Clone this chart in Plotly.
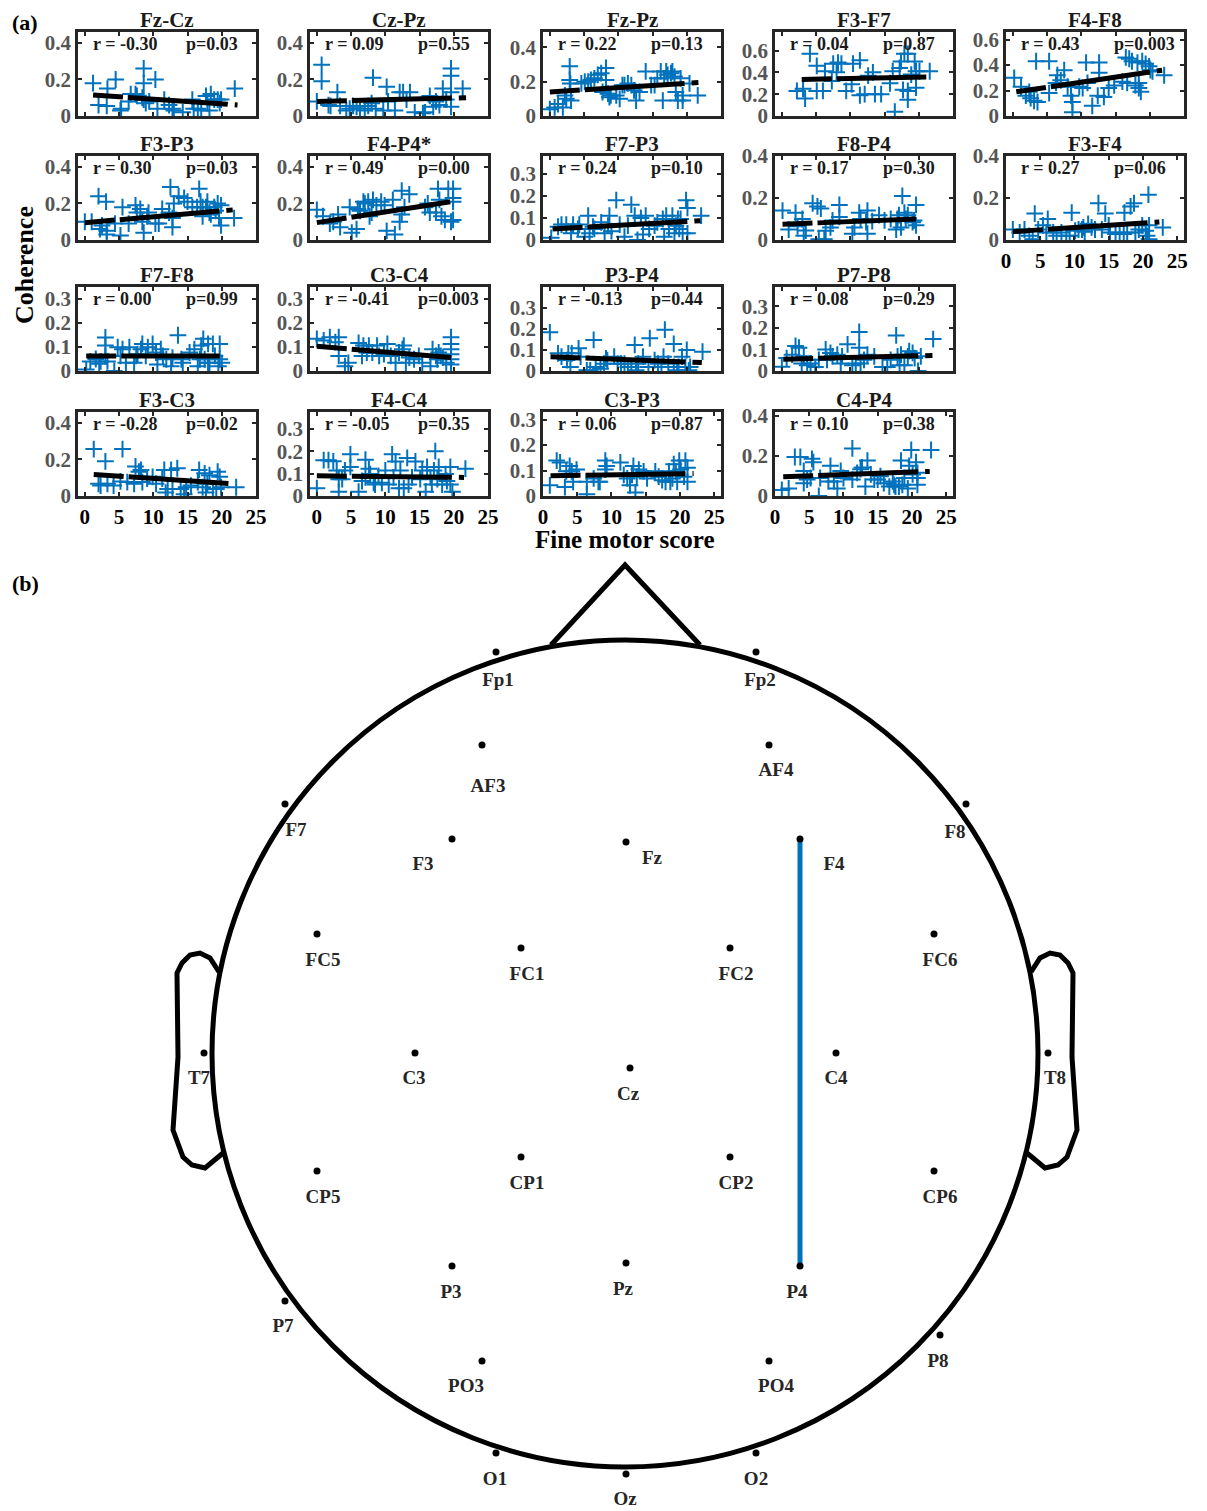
import plotly.graph_objects as go

W, H = 1207, 1511          # target picture size
OFF = 8                    # page body margin of the browser
FIG_W, FIG_H = W - OFF, H - OFF
FONT = "Liberation Serif"
BLUE = "#0072BD"

# ---------------- panel data (x = fine motor score, y = coherence) ----------------
fzcz_x = [1.2,2.0,3.2,3.3,4.5,5.2,5.3,6.4,6.7,7.4,7.6,8.4,8.6,8.6,8.6,8.9,9.4,10.3,10.6,11.6,12.3,12.8,13.0,14.3,15.7,15.9,16.5,17.0,17.7,17.9,18.2,18.4,18.9,19.4,19.7,19.9,21.9]
fzcz_y = [0.18,0.06,0.055,0.15,0.20,0.03,0.04,0.08,0.12,0.12,0.11,0.10,0.26,0.18,0.09,0.07,0.08,0.20,0.04,0.09,0.06,0.04,0.03,0.02,0.09,0.04,0.04,0.03,0.11,0.07,0.03,0.12,0.09,0.09,0.07,0.09,0.15]
fzcz_fit_x = [1.2, 22.3]; fzcz_fit_y = [0.115, 0.06]

czpz_x = [0,0.7,0.7,1.7,2.0,3.0,3.4,4.3,4.8,5.3,5.8,6.3,7.0,7.5,8.0,8.2,8.6,9.7,10.2,10.4,11.4,12.1,12.6,13.1,13.6,14.3,15.5,15.8,16.5,17.0,17.4,17.9,18.4,18.9,19.6,19.6,19.6,19.6,21.3]
czpz_y = [0.08,0.19,0.28,0.06,0.055,0.13,0.055,0.03,0.04,0.055,0.05,0.04,0.03,0.055,0.07,0.21,0.04,0.03,0.16,0.08,0.03,0.13,0.13,0.09,0.13,0.02,0.015,0.02,0.11,0.05,0.08,0.06,0.15,0.09,0.26,0.22,0.13,0.05,0.15]
czpz_fit_x = [0, 21.8]; czpz_fit_y = [0.08, 0.10]

fzpz_x = [0,0.7,1.2,1.9,2.2,2.4,2.9,2.9,3.0,3.1,4.6,5.1,5.6,6.0,6.5,7.0,7.5,7.7,8.2,8.2,8.5,8.7,8.9,9.7,10.2,10.6,10.9,11.4,11.9,12.3,12.6,13.1,14.0,14.8,15.3,15.7,16.2,16.5,16.7,17.0,17.2,17.7,17.9,18.2,18.4,18.7,19.1,19.4,19.4,20.4,21.6]
fzpz_y = [0.04,0.05,0.07,0.05,0.12,0.10,0.29,0.21,0.19,0.09,0.19,0.20,0.20,0.21,0.22,0.24,0.25,0.14,0.28,0.21,0.13,0.11,0.12,0.12,0.10,0.18,0.18,0.19,0.18,0.15,0.09,0.14,0.26,0.18,0.18,0.22,0.26,0.09,0.22,0.26,0.24,0.25,0.26,0.23,0.14,0.09,0.22,0.12,0.09,0.19,0.12]
fzpz_fit_x = [0, 21.7]; fzpz_fit_y = [0.14, 0.195]

f3f7_x = [2.2,3.1,3.4,4.1,5.1,5.1,6.0,6.3,7.3,7.5,8.0,8.2,8.7,9.4,10.2,10.4,11.4,11.4,12.1,12.6,13.3,13.6,14.5,15.8,16.2,16.5,17.2,17.4,17.7,17.9,18.4,18.4,18.4,18.9,19.4,19.6,19.6,20.1,21.6]
f3f7_y = [0.23,0.25,0.16,0.57,0.46,0.23,0.23,0.41,0.32,0.48,0.40,0.49,0.48,0.23,0.29,0.48,0.51,0.19,0.20,0.37,0.40,0.20,0.20,0.30,0.41,0.04,0.44,0.50,0.24,0.57,0.57,0.23,0.15,0.38,0.50,0.41,0.26,0.41,0.41]
f3f7_fit_x = [2.9, 21.1]; f3f7_fit_y = [0.335, 0.357]

f4f8_x = [0.2,1.2,1.9,2.4,2.6,3.1,3.6,3.4,5.3,5.3,6.3,6.5,7.0,7.5,8.0,8.5,8.7,8.7,9.7,10.2,10.7,10.9,11.6,12.4,12.6,12.6,13.3,14.0,14.8,16.0,16.5,16.7,17.0,17.4,17.9,18.2,18.4,18.4,18.7,18.9,19.4,19.9,20.1,20.4,22.1]
f4f8_y = [0.30,0.23,0.16,0.19,0.14,0.12,0.11,0.43,0.43,0.18,0.26,0.32,0.28,0.36,0.23,0.16,0.11,0.03,0.23,0.22,0.42,0.26,0.08,0.16,0.42,0.34,0.15,0.22,0.24,0.27,0.46,0.26,0.45,0.43,0.24,0.42,0.26,0.22,0.19,0.43,0.41,0.39,0.36,0.35,0.32]
f4f8_fit_x = [0.5, 21.8]; f4f8_fit_y = [0.19, 0.36]

f3p3_x = [0,1.0,2.0,2.2,2.5,3.1,3.2,3.2,4.4,5.2,5.5,6.4,7.4,7.6,8.1,8.4,8.6,9.1,9.3,10.3,10.8,11.3,12.3,12.5,12.8,12.8,13.0,13.7,14.5,15.0,15.7,16.4,16.7,16.9,17.2,17.2,17.7,17.9,18.2,18.4,18.9,19.1,19.4,19.6,19.9,19.9,21.8]
f3p3_y = [0.10,0.10,0.24,0.06,0.08,0.21,0.05,0.03,0.09,0.025,0.18,0.09,0.19,0.15,0.17,0.10,0.04,0.13,0.15,0.09,0.09,0.17,0.15,0.29,0.12,0.07,0.20,0.24,0.23,0.21,0.18,0.18,0.28,0.21,0.18,0.13,0.18,0.21,0.15,0.14,0.18,0.16,0.20,0.12,0.08,0.19,0.12]
f3p3_fit_x = [0, 21.6]; f3p3_fit_y = [0.095, 0.165]

f4p4_x = [0,0.9,1.9,2.4,3.1,3.4,4.8,5.1,5.8,6.0,6.3,6.8,7.0,7.5,7.7,8.0,8.2,8.7,9.4,9.9,10.2,11.1,11.4,12.1,12.4,12.4,12.8,13.5,15.8,16.2,16.5,17.4,17.7,17.9,18.2,18.7,19.2,19.6,19.9,19.9,19.9,19.9]
f4p4_y = [0.165,0.13,0.09,0.10,0.14,0.07,0.18,0.04,0.06,0.17,0.16,0.21,0.20,0.21,0.13,0.15,0.22,0.19,0.21,0.19,0.05,0.22,0.03,0.10,0.14,0.27,0.18,0.25,0.18,0.20,0.15,0.15,0.28,0.22,0.13,0.11,0.28,0.10,0.28,0.23,0.21,0.11]
f4p4_fit_x = [0, 19.6]; f4p4_fit_y = [0.095, 0.21]

f7p3_x = [0.2,1.2,1.7,2.4,3.1,3.4,4.1,4.3,5.1,5.6,5.8,6.3,6.5,7.5,8.0,8.5,8.7,9.0,9.7,10.2,10.9,11.4,11.9,12.4,12.8,13.3,13.6,14.0,14.5,15.3,15.7,16.5,16.7,17.0,17.4,17.9,18.2,18.4,18.7,18.9,19.1,19.4,19.9,20.1,20.1,22.1]
f7p3_y = [0.01,0.06,0.07,0.07,0.03,0.07,0.05,0.07,0.015,0.11,0.03,0.06,0.05,0.08,0.03,0.065,0.11,0.04,0.18,0.07,0.015,0.065,0.16,0.11,0.0,0.10,0.025,0.11,0.05,0.065,0.08,0.095,0.015,0.11,0.05,0.11,0.03,0.065,0.095,0.05,0.095,0.03,0.18,0.145,0.03,0.11]
f7p3_fit_x = [0.4, 22.0]; f7p3_fit_y = [0.05, 0.087]

f8p4_x = [0.1,1.0,2.0,2.3,3.0,3.2,3.5,4.5,5.2,5.4,5.7,6.2,6.4,7.1,7.4,8.4,8.4,10.3,10.6,11.3,11.5,12.3,12.5,12.5,13.2,14.2,15.0,15.9,16.7,16.9,17.1,17.4,17.6,17.9,18.1,18.4,19.1,19.3,19.6,19.6]
f8p4_y = [0.14,0.05,0.13,0.065,0.10,0.02,0.045,0.175,0.16,0.003,0.15,0.003,0.044,0.06,0.093,0.167,0.11,0.03,0.06,0.13,0.10,0.085,0.14,0.03,0.09,0.118,0.093,0.10,0.05,0.10,0.118,0.06,0.21,0.13,0.10,0.118,0.085,0.093,0.07,0.167]
f8p4_fit_x = [0.1, 19.6]; f8p4_fit_y = [0.075, 0.10]

f3f4_x = [1.0,2.0,2.7,3.4,3.9,4.2,4.7,5.4,5.9,6.1,6.9,7.4,8.1,8.8,9.3,9.6,10.1,10.6,11.1,11.3,11.5,12.0,12.5,13.0,13.5,14.0,14.5,15.0,15.2,16.0,16.6,17.2,17.3,17.7,18.2,18.7,18.9,19.4,19.9,20.4,20.6,20.8,20.9,20.9,22.9]
f3f4_y = [0.05,0.036,0.05,0.02,0.003,0.126,0.05,0.07,0.036,0.10,0.036,0.02,0.036,0.02,0.02,0.13,0.044,0.05,0.05,0.06,0.039,0.077,0.06,0.05,0.175,0.05,0.126,0.07,0.036,0.028,0.036,0.028,0.13,0.036,0.16,0.175,0.036,0.05,0.07,0.044,0.02,0.216,0.07,0.003,0.06]
f3f4_fit_x = [1.0, 22.4]; f3f4_fit_y = [0.04, 0.086]

f7f8_x = [0.2,0.8,1.6,2.1,2.3,3.0,3.0,3.0,3.3,4.3,4.8,5.2,5.5,6.0,6.5,7.2,7.5,7.7,8.2,8.4,8.9,9.2,9.9,10.4,10.6,11.1,11.4,11.9,12.6,12.8,13.6,14.1,14.3,15.3,16.0,16.5,16.8,17.0,17.3,17.5,18.0,18.0,18.2,18.7,19.0,19.5,19.7,19.7,20.0]
f7f8_y = [0.006,0.04,0.05,0.03,0.04,0.14,0.106,0.063,0.04,0.0,0.099,0.063,0.091,0.034,0.099,0.034,0.063,0.07,0.091,0.113,0.063,0.099,0.113,0.077,0.027,0.091,0.063,0.049,0.02,0.056,0.149,0.049,0.034,0.077,0.091,0.02,0.049,0.106,0.134,0.049,0.113,0.034,0.034,0.113,0.063,0.02,0.113,0.049,0.034]
f7f8_fit_x = [0.2, 19.7]; f7f8_fit_y = [0.063, 0.063]

c3c4_x = [0,1.0,1.9,2.7,3.2,3.2,4.1,4.6,6.1,6.6,6.8,7.3,7.6,8.1,8.8,9.1,9.8,10.3,10.8,11.5,12.0,12.5,12.7,13.0,13.5,14.2,14.9,15.4,16.6,16.9,17.4,17.6,17.8,18.1,18.4,18.9,19.6,19.6,19.6,19.6,19.6,19.6]
c3c4_y = [0.134,0.127,0.141,0.12,0.141,0.063,0.02,0.034,0.117,0.063,0.106,0.077,0.106,0.077,0.106,0.063,0.07,0.113,0.063,0.034,0.077,0.091,0.106,0.034,0.056,0.049,0.063,0.034,0.02,0.091,0.063,0.049,0.077,0.063,0.056,0.034,0.141,0.113,0.091,0.070,0.049,0.027]
c3c4_fit_x = [0, 19.6]; c3c4_fit_y = [0.103, 0.056]

p3p4_x = [0,1.2,1.7,2.5,2.7,3.0,3.2,4.2,4.5,5.4,5.9,6.4,6.7,7.4,7.9,8.2,8.4,9.4,9.9,10.4,10.9,11.4,11.9,12.4,12.6,12.9,13.6,14.4,14.6,15.3,15.8,16.3,16.6,16.8,17.3,18.1,18.1,18.6,18.8,19.3,19.8,20.0,20.3,20.5,22.3]
p3p4_y = [0.184,0.084,0.068,0.052,0.084,0.019,0.084,0.108,0.068,0.003,0.003,0.148,0.019,0.011,0.035,0.06,0.052,0.068,0.035,0.035,0.035,0.019,0.019,0.124,0.003,0.035,0.068,0.019,0.156,0.052,0.035,0.019,0.068,0.197,0.035,0.129,0.019,0.003,0.019,0.068,0.019,0.1,0.003,0.019,0.092]
p3p4_fit_x = [0.1, 22.2]; p3p4_fit_y = [0.068, 0.04]

p7p8_x = [0,0.7,1.5,2.0,2.5,2.9,3.2,3.7,4.2,4.9,5.4,6.4,6.6,7.1,7.4,8.1,8.6,8.8,9.6,10.3,10.8,11.3,11.3,11.5,12.0,12.5,13.5,14.7,15.4,15.9,16.7,16.9,17.2,17.4,17.9,18.4,18.6,19.1,19.4,19.9,20.3,22.1]
p7p8_y = [0.02,0.06,0.076,0.116,0.108,0.035,0.068,0.027,0.035,0.019,0.052,0.1,0.052,0.084,0.068,0.076,0.035,0.068,0.124,0.027,0.035,0.108,0.181,0.035,0.052,0.076,0.068,0.019,0.019,0.052,0.165,0.068,0.027,0.076,0.027,0.068,0.092,0.084,0.06,0.0,0.068,0.148]
p7p8_fit_x = [0.2, 22.0]; p7p8_fit_y = [0.055, 0.072]

f3c3_x = [1.3,2.0,2.3,3.0,3.3,4.2,5.5,5.2,6.2,7.2,7.4,7.9,8.2,8.4,9.1,9.9,10.4,11.3,11.6,11.8,12.1,12.6,12.8,13.5,14.0,14.5,14.8,15.5,16.5,16.7,17.2,17.5,17.7,17.9,18.2,18.7,19.2,19.4,19.7,19.9,22.1]
f3c3_y = [0.257,0.067,0.057,0.19,0.067,0.057,0.257,0.08,0.076,0.067,0.162,0.133,0.143,0.076,0.095,0.105,0.067,0.095,0.143,0.019,0.038,0.143,0.038,0.152,0.038,0.01,0.048,0.057,0.076,0.143,0.048,0.124,0.019,0.067,0.114,0.038,0.038,0.133,0.105,0.048,0.048]
f3c3_fit_x = [1.3, 21.6]; f3c3_fit_y = [0.118, 0.067]

f4c4_x = [0,1.0,1.7,2.4,2.9,3.2,3.2,3.7,4.1,4.9,4.9,6.1,6.6,7.1,7.1,7.6,7.8,8.3,8.5,9.0,9.5,10.0,10.5,11.0,11.2,11.5,12.0,12.2,12.7,13.2,13.4,13.9,14.4,15.1,15.4,15.9,16.1,16.6,16.8,17.1,17.3,17.6,17.8,18.3,18.8,19.0,19.5,19.5,19.8,21.7]
f4c4_y = [0.035,0.16,0.16,0.155,0.114,0.075,0.019,0.075,0.114,0.186,0.13,0.019,0.067,0.083,0.162,0.122,0.098,0.059,0.051,0.09,0.059,0.114,0.051,0.186,0.083,0.154,0.035,0.114,0.035,0.17,0.051,0.083,0.154,0.075,0.114,0.019,0.13,0.083,0.051,0.114,0.2,0.075,0.13,0.051,0.098,0.067,0.13,0.051,0.019,0.122]
f4c4_fit_x = [0, 21.5]; f4c4_fit_y = [0.09, 0.083]

c3p3_x = [1.0,2.0,2.5,3.2,3.4,3.9,4.2,4.4,4.9,6.4,6.4,7.4,8.1,8.3,9.1,9.1,9.3,11.3,11.8,12.3,12.7,13.0,13.2,13.5,13.7,14.0,14.7,15.2,16.4,16.9,17.4,17.9,18.4,18.6,18.9,19.1,19.4,19.6,19.9,20.1,20.6,20.8,21.1,21.1]
c3p3_y = [0.042,0.139,0.132,0.035,0.097,0.118,0.097,0.056,0.104,0.056,0.007,0.069,0.056,0.056,0.139,0.104,0.118,0.132,0.083,0.069,0.042,0.083,0.118,0.014,0.076,0.104,0.097,0.069,0.097,0.076,0.062,0.056,0.097,0.056,0.069,0.125,0.097,0.056,0.139,0.104,0.076,0.139,0.111,0.056]
c3p3_fit_x = [1.1, 22.0]; c3p3_fit_y = [0.08, 0.088]

c4p4_x = [1.0,2.0,2.9,3.7,4.2,4.2,4.7,5.2,5.4,5.6,6.4,6.6,7.8,8.1,8.6,9.1,9.6,10.0,11.3,11.3,12.0,12.5,12.7,13.2,13.5,14.0,14.5,15.0,15.4,15.9,16.7,17.2,17.4,17.6,18.1,18.4,18.6,18.9,19.4,19.6,19.9,20.1,20.6,20.8,20.8,20.8,22.8]
c4p4_y = [0.03,0.038,0.195,0.195,0.125,0.064,0.082,0.09,0.186,0.169,0.0,0.09,0.073,0.151,0.073,0.038,0.125,0.09,0.238,0.082,0.116,0.134,0.143,0.047,0.177,0.108,0.082,0.082,0.099,0.064,0.047,0.073,0.056,0.047,0.047,0.177,0.056,0.09,0.038,0.151,0.23,0.108,0.169,0.116,0.09,0.056,0.23]
c4p4_fit_x = [1.2, 22.6]; c4p4_fit_y = [0.096, 0.123]

panel_titles = ["Fz-Cz", "Cz-Pz", "Fz-Pz", "F3-F7", "F4-F8",
                "F3-P3", "F4-P4*", "F7-P3", "F8-P4", "F3-F4",
                "F7-F8", "C3-C4", "P3-P4", "P7-P8",
                "F3-C3", "F4-C4", "C3-P3", "C4-P4"]
r_labels = ["r = -0.30", "r = 0.09", "r = 0.22", "r = 0.04", "r = 0.43",
            "r = 0.30", "r = 0.49", "r = 0.24", "r = 0.17", "r = 0.27",
            "r = 0.00", "r = -0.41", "r = -0.13", "r = 0.08",
            "r = -0.28", "r = -0.05", "r = 0.06", "r = 0.10"]
p_labels = ["p=0.03", "p=0.55", "p=0.13", "p=0.87", "p=0.003",
            "p=0.03", "p=0.00", "p=0.10", "p=0.30", "p=0.06",
            "p=0.99", "p=0.003", "p=0.44", "p=0.29",
            "p=0.02", "p=0.35", "p=0.87", "p=0.38"]

scatter_x = [fzcz_x, czpz_x, fzpz_x, f3f7_x, f4f8_x, f3p3_x, f4p4_x, f7p3_x, f8p4_x, f3f4_x,
             f7f8_x, c3c4_x, p3p4_x, p7p8_x, f3c3_x, f4c4_x, c3p3_x, c4p4_x]
scatter_y = [fzcz_y, czpz_y, fzpz_y, f3f7_y, f4f8_y, f3p3_y, f4p4_y, f7p3_y, f8p4_y, f3f4_y,
             f7f8_y, c3c4_y, p3p4_y, p7p8_y, f3c3_y, f4c4_y, c3p3_y, c4p4_y]
fit_x = [fzcz_fit_x, czpz_fit_x, fzpz_fit_x, f3f7_fit_x, f4f8_fit_x, f3p3_fit_x, f4p4_fit_x, f7p3_fit_x,
         f8p4_fit_x, f3f4_fit_x, f7f8_fit_x, c3c4_fit_x, p3p4_fit_x, p7p8_fit_x, f3c3_fit_x, f4c4_fit_x,
         c3p3_fit_x, c4p4_fit_x]
fit_y = [fzcz_fit_y, czpz_fit_y, fzpz_fit_y, f3f7_fit_y, f4f8_fit_y, f3p3_fit_y, f4p4_fit_y, f7p3_fit_y,
         f8p4_fit_y, f3f4_fit_y, f7f8_fit_y, c3c4_fit_y, p3p4_fit_y, p7p8_fit_y, f3c3_fit_y, f4c4_fit_y,
         c3p3_fit_y, c4p4_fit_y]

# axis limits / ticks per panel
y_max = [0.46, 0.46, 0.49, 0.77, 0.66,
         0.46, 0.46, 0.38, 0.40, 0.40,
         0.35, 0.35, 0.40, 0.39,
         0.46, 0.375, 0.33, 0.42]
y_tickvals = [[0, 0.2, 0.4], [0, 0.2, 0.4], [0, 0.2, 0.4], [0, 0.2, 0.4, 0.6], [0, 0.2, 0.4, 0.6],
              [0, 0.2, 0.4], [0, 0.2, 0.4], [0, 0.1, 0.2, 0.3], [0, 0.2, 0.4], [0, 0.2, 0.4],
              [0, 0.1, 0.2, 0.3], [0, 0.1, 0.2, 0.3], [0, 0.1, 0.2, 0.3], [0, 0.1, 0.2, 0.3],
              [0, 0.2, 0.4], [0, 0.1, 0.2, 0.3], [0, 0.1, 0.2, 0.3], [0, 0.2, 0.4]]
x_lo = [-1, -1, -1, -1, -1, -1, -1, -1, -1, 0, -1, -1, -1, -1, -1, -1, 0, 0]
x_ticks = [0, 5, 10, 15, 20, 25]
show_x_labels = [False]*9 + [True] + [False]*4 + [True]*4

grid_pos = [(0, 0), (0, 1), (0, 2), (0, 3), (0, 4),
            (1, 0), (1, 1), (1, 2), (1, 3), (1, 4),
            (2, 0), (2, 1), (2, 2), (2, 3),
            (3, 0), (3, 1), (3, 2), (3, 3)]
COL_LEFT = [78, 310, 543, 775, 1006]
ROW_TOP = [32, 156, 287, 412]
BOX_W, BOX_H = 178, 84

# ---------------- head map data ----------------
elec_names = ["Fp1", "Fp2", "AF3", "AF4", "F7", "F8", "F3", "Fz", "F4", "FC5", "FC1", "FC2", "FC6",
              "T7", "C3", "Cz", "C4", "T8", "CP5", "CP1", "CP2", "CP6", "P7", "P3", "Pz", "P4", "P8",
              "PO3", "PO4", "O1", "Oz", "O2"]
elec_x = [496, 756, 482, 769, 285, 966, 452, 626, 800, 317, 521, 730, 934,
          204, 415, 630, 836, 1048, 317, 521, 730, 934, 285, 452, 626, 800, 940,
          482, 769, 496, 626, 756]
elec_y = [652, 652, 745, 745, 804, 804, 839, 842, 839, 934, 948, 948, 934,
          1053, 1053, 1068, 1053, 1053, 1171, 1157, 1157, 1171, 1301, 1266, 1263, 1266, 1335,
          1361, 1361, 1453, 1474, 1453]
label_x = [498, 760, 488, 776, 296, 955, 423, 652, 834, 323, 527, 736, 940,
           199, 414, 628, 836, 1055, 323, 527, 736, 940, 283, 451, 623, 797, 938,
           466, 776, 495, 625, 756]
label_y = [681, 681, 787, 771, 831, 833, 865, 859, 865, 961, 975, 975, 961,
           1079, 1079, 1095, 1079, 1079, 1198, 1184, 1184, 1198, 1327, 1293, 1290, 1293, 1362,
           1387, 1387, 1480, 1500, 1480]
significant_pairs = [("F4", "P4")]

head_center = (625, 1053.5)
head_radius = (413, 413.5)
nose_x = [551, 625, 700]
nose_y = [645, 565, 645]
ear_x = [219, 210, 200, 190, 182, 177, 178, 173, 183, 192, 205, 223]
ear_y = [972, 958, 953, 955, 963, 973, 1057, 1130, 1157, 1165, 1168, 1153]


def fx(px):
    """picture pixel -> paper fraction (x)"""
    return (px - OFF) / FIG_W


def fy(py):
    """picture pixel -> paper fraction (y)"""
    return 1 - (py - OFF) / FIG_H


# ---------------- build figure ----------------
fig = go.Figure()
layout = dict(width=FIG_W, height=FIG_H, margin=dict(l=0, r=0, t=0, b=0, pad=0, autoexpand=False),
              template="none", paper_bgcolor="white", plot_bgcolor="white", showlegend=False)
annotations = []
shapes = []

axis_line = "#262626"
for i in range(18):
    n = i + 1
    sfx = "" if n == 1 else str(n)
    r, c = grid_pos[i]
    left, top = COL_LEFT[c], ROW_TOP[r]
    xd = [fx(left), fx(left + BOX_W)]
    yd = [fy(top + BOX_H), fy(top)]
    layout["xaxis" + sfx] = dict(
        domain=xd, anchor="y" + sfx, range=[x_lo[i], x_lo[i] + 26], automargin=False,
        tickvals=x_ticks, ticks="inside", ticklen=4, tickwidth=1.5, tickcolor=axis_line,
        showline=True, linewidth=2.5, linecolor=axis_line, mirror="ticks",
        showgrid=False, zeroline=False, showticklabels=show_x_labels[i],
        tickfont=dict(family=FONT, size=21, color="black", weight="bold"))
    layout["yaxis" + sfx] = dict(
        domain=yd, anchor="x" + sfx, range=[0, y_max[i]], automargin=False,
        tickvals=y_tickvals[i], ticktext=[("0" if v == 0 else f"{v:g}") for v in y_tickvals[i]],
        ticks="inside", ticklen=4, tickwidth=1.5, tickcolor=axis_line,
        showline=True, linewidth=2.5, linecolor=axis_line, mirror="ticks",
        showgrid=False, zeroline=False,
        tickfont=dict(family=FONT, size=21, color="#555555", weight="bold"))

    fig.add_trace(go.Scatter(
        x=scatter_x[i], y=scatter_y[i], mode="markers", xaxis="x" + sfx, yaxis="y" + sfx,
        marker=dict(symbol="cross-thin", size=12, color=BLUE, line=dict(color=BLUE, width=2))))
    fig.add_trace(go.Scatter(
        x=fit_x[i], y=fit_y[i], mode="lines", xaxis="x" + sfx, yaxis="y" + sfx,
        line=dict(color="black", width=5, dash="30px,5px,100px,7px")))

    dref = f"x{sfx} domain", f"y{sfx} domain"
    annotations.append(dict(text=panel_titles[i], xref=dref[0], yref=dref[1], x=0.5, y=1.0,
                            xanchor="center", yanchor="bottom", yshift=-2, showarrow=False,
                            font=dict(family=FONT, size=21, color="#1a1a1a", weight="bold")))
    annotations.append(dict(text=r_labels[i], xref=dref[0], yref=dref[1], x=13 / BOX_W, y=1 - 12 / BOX_H,
                            xanchor="left", yanchor="middle", showarrow=False,
                            font=dict(family=FONT, size=18, color="#1a1a1a", weight="bold")))
    annotations.append(dict(text=p_labels[i], xref=dref[0], yref=dref[1], x=106 / BOX_W, y=1 - 12 / BOX_H,
                            xanchor="left", yanchor="middle", showarrow=False,
                            font=dict(family=FONT, size=18, color="#1a1a1a", weight="bold")))

# figure-level labels
annotations += [
    dict(text="(a)", xref="paper", yref="paper", x=fx(25), y=fy(22), xanchor="center",
         yanchor="middle", showarrow=False, font=dict(family=FONT, size=22, color="black", weight="bold")),
    dict(text="(b)", xref="paper", yref="paper", x=fx(25), y=fy(583), xanchor="center",
         yanchor="middle", showarrow=False, font=dict(family=FONT, size=22, color="black", weight="bold")),
    dict(text="Coherence", xref="paper", yref="paper", x=fx(25), y=fy(265), xanchor="center",
         yanchor="middle", textangle=-90, showarrow=False,
         font=dict(family=FONT, size=26, color="black", weight="bold")),
    dict(text="Fine motor score", xref="paper", yref="paper", x=fx(625), y=fy(539), xanchor="center",
         yanchor="middle", showarrow=False, font=dict(family=FONT, size=25, color="black", weight="bold")),
]

# ---------------- head map axes (picture-pixel coordinates) ----------------
HEAD_TOP = 545
layout["xaxis19"] = dict(domain=[0, 1], range=[OFF, W], visible=False, anchor="y19", automargin=False)
layout["yaxis19"] = dict(domain=[0, fy(HEAD_TOP)], range=[H, HEAD_TOP], visible=False, anchor="x19",
                         automargin=False)

cx, cy = head_center
rx, ry = head_radius
shapes.append(dict(type="circle", xref="x19", yref="y19", x0=cx - rx, x1=cx + rx, y0=cy - ry, y1=cy + ry,
                   line=dict(color="black", width=5)))
nose_path = "M " + " L ".join(f"{x},{y}" for x, y in zip(nose_x, nose_y))
shapes.append(dict(type="path", xref="x19", yref="y19", path=nose_path, line=dict(color="black", width=5)))
left_ear = "M " + " L ".join(f"{x},{y}" for x, y in zip(ear_x, ear_y))
right_ear = "M " + " L ".join(f"{2 * cx - x},{y}" for x, y in zip(ear_x, ear_y))
for p in (left_ear, right_ear):
    shapes.append(dict(type="path", xref="x19", yref="y19", path=p, line=dict(color="black", width=5)))

for a, b in significant_pairs:
    ia, ib = elec_names.index(a), elec_names.index(b)
    fig.add_trace(go.Scatter(x=[elec_x[ia], elec_x[ib]], y=[elec_y[ia], elec_y[ib]], mode="lines",
                             xaxis="x19", yaxis="y19", line=dict(color=BLUE, width=5)))

fig.add_trace(go.Scatter(x=elec_x, y=elec_y, mode="markers", xaxis="x19", yaxis="y19",
                         marker=dict(color="black", size=7)))
fig.add_trace(go.Scatter(x=label_x, y=label_y, text=elec_names, mode="text", xaxis="x19", yaxis="y19",
                         textposition="middle center", cliponaxis=False,
                         textfont=dict(family=FONT, size=19, color="#262626", weight="bold")))

layout["annotations"] = annotations
layout["shapes"] = shapes
fig.update_layout(**layout)
fig.write_html("out.html")
